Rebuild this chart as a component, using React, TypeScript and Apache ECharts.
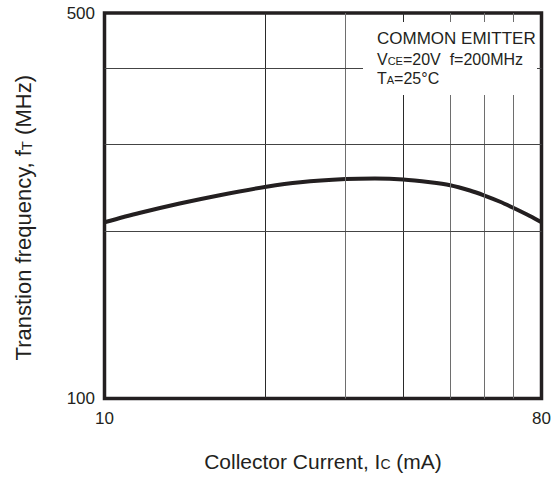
import React, { useEffect, useRef } from "react";
import * as echarts from "echarts";

// Collector current (mA) and transition frequency (MHz) along the curve
const currentMA = [10, 11.8, 14.3, 17.3, 21.6, 25.4, 31.5, 36.2, 41.4, 47.1, 51.8, 56.9, 60.8, 65.7, 69.9, 75.7, 80];
const ftMHz = [208.7, 216.9, 225.7, 233.7, 242.1, 246.7, 249.9, 250.5, 249.6, 246.7, 243.6, 238.3, 233.6, 227.4, 221.7, 214.2, 208.7];

// Axis labels shown at the ends of each log axis
const xTickLabels = [10, 80];
const yTickLabels = [100, 500];

// Grid rulings on the log axes
const xGridLines = [21.5, 31.5, 41.4, 51.8, 60.8, 69.9];
const yGridLines = [201, 289, 397];

const INK = "#231f20";
const FONT = "'Liberation Sans', Arial, Helvetica, sans-serif";

const labelFor = (ticks: number[]) => (v: number) => {
  const hit = ticks.find((t) => Math.abs(t - v) / t < 1e-6);
  return hit === undefined ? "" : String(hit);
};

export default function App() {
  const ref = useRef<HTMLDivElement>(null);

  useEffect(() => {
    if (!ref.current) return;
    const chart = echarts.init(ref.current, undefined, { renderer: "svg" });

    const gridColor = (i: number) => (i === 0 || i === 2 ? "#2a2a2a" : "#6e6e6e");
    const sub = { fontSize: 14, color: INK, fontFamily: FONT, verticalAlign: "bottom", padding: [0, 0, 1, 0] };

    chart.setOption({
      animation: false,
      textStyle: { fontFamily: FONT },
      grid: {
        left: 104.5,
        right: 13.5,
        top: 13,
        bottom: 80.5,
        show: true,
        borderColor: INK,
        borderWidth: 3.5,
        backgroundColor: "transparent",
        containLabel: false,
        outerBoundsMode: "none",
      },
      xAxis: {
        type: "log",
        logBase: 10,
        min: 10,
        max: 80,
        name: "Collector Current, I{s|C} (mA)",
        nameLocation: "middle",
        nameGap: 52,
        nameTextStyle: { fontSize: 21, color: INK, fontFamily: FONT, rich: { s: sub } },
        axisLine: { show: false },
        axisTick: { show: false },
        splitLine: { show: false },
        axisLabel: {
          margin: 11,
          fontSize: 17,
          color: INK,
          fontFamily: FONT,
          formatter: labelFor(xTickLabels),
        },
      },
      yAxis: {
        type: "log",
        logBase: 10,
        min: 100,
        max: 500,
        name: "Transtion frequency, f{s|T} (MHz)",
        nameLocation: "middle",
        nameGap: 70,
        nameTextStyle: {
          fontSize: 22,
          color: INK,
          fontFamily: FONT,
          padding: [0, 24, 0, 0],
          rich: { s: { ...sub, fontSize: 15 } },
        },
        axisLine: { show: false },
        axisTick: { show: false },
        splitLine: { show: false },
        axisLabel: {
          margin: 9.5,
          fontSize: 17,
          color: INK,
          fontFamily: FONT,
          formatter: labelFor(yTickLabels),
        },
      },
      series: [
        {
          type: "line",
          data: currentMA.map((x, i) => [x, ftMHz[i]]),
          smooth: 0.3,
          symbol: "none",
          lineStyle: { width: 4, color: INK },
          z: 3,
          markLine: {
            silent: true,
            symbol: "none",
            label: { show: false },
            data: [
              ...xGridLines.map((v, i) => ({
                xAxis: v,
                lineStyle: { type: "solid", width: 1, color: gridColor(i) },
              })),
              ...yGridLines.map((v) => ({
                yAxis: v,
                lineStyle: { type: "solid", width: 1, color: "#444" },
              })),
            ],
          },
        },
      ],
      graphic: [
        {
          type: "rect",
          z: 100,
          shape: { x: 363, y: 22, width: 174, height: 73 },
          style: { fill: "#fff" },
        },
        {
          type: "text",
          z: 101,
          x: 377,
          y: 29.5,
          style: {
            text: "COMMON EMITTER",
            fontSize: 17,
            fontFamily: FONT,
            fill: INK,
            verticalAlign: "top",
          },
        },
        {
          type: "text",
          z: 101,
          x: 377,
          y: 51.5,
          style: {
            text: "V{s|CE}=20V  f=200MHz",
            fontSize: 16,
            fontFamily: FONT,
            fill: INK,
            verticalAlign: "top",
            rich: {
              s: { fontSize: 11, fontFamily: FONT, fill: INK, verticalAlign: "bottom", padding: [0, 0, 1, 0] },
            },
          },
        },
        {
          type: "text",
          z: 101,
          x: 377,
          y: 70.5,
          style: {
            text: "T{s|A}=25°C",
            fontSize: 16,
            fontFamily: FONT,
            fill: INK,
            verticalAlign: "top",
            rich: {
              s: { fontSize: 11, fontFamily: FONT, fill: INK, verticalAlign: "bottom", padding: [0, 0, 1, 0] },
            },
          },
        },
      ],
    });

    return () => chart.dispose();
  }, []);

  return (
    <div
      ref={ref}
      style={{ position: "fixed", left: 0, top: 0, width: 555, height: 479, background: "#fff" }}
    />
  );
}
